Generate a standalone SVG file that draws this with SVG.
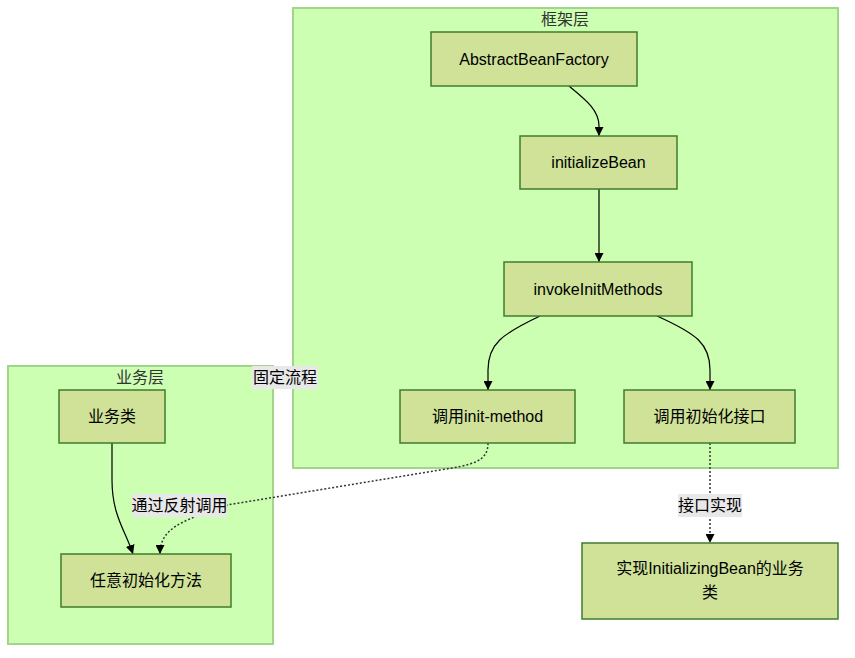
<svg xmlns="http://www.w3.org/2000/svg" width="855" height="658" viewBox="0 0 855 658">
<style>
text{font-family:"Liberation Sans","Noto Sans CJK SC",sans-serif;font-size:16px;fill:#000;text-anchor:middle;dominant-baseline:central}
.cluster rect{fill:#cdffb2;stroke:#a2d58a;stroke-width:2}
.cluster text{fill:#333}
.node rect{fill:#cfe298;stroke:#3f7d2c;stroke-width:1.5}
.edge{fill:none;stroke:#000;stroke-width:1.2}
.dot{stroke-dasharray:2,2;stroke:#333;stroke-width:1.5}
.lbl rect{fill:#e8e8e8}
</style>
<defs>
<marker id="arr" viewBox="0 0 10 10" refX="10" refY="5" markerWidth="9" markerHeight="9" markerUnits="userSpaceOnUse" orient="auto">
<path d="M0,0 L10,5 L0,10 z" fill="#000"/>
</marker>
</defs>
<g id="cluster-framework" class="cluster">
<rect x="293" y="8" width="545" height="460"/>
<text x="565" y="19">框架层</text>
</g>
<g id="cluster-business" class="cluster">
<rect x="8" y="366" width="265" height="278"/>
<text x="140" y="377">业务层</text>
</g>
<g id="connectors">
<path class="edge" d="M569,86 C586,100 599,110 599,126 L599,136" marker-end="url(#arr)"/>
<path class="edge" d="M599,189 L599,262" marker-end="url(#arr)"/>
<path class="edge" d="M540,316 C502,334 488,344 488,370 L488,390" marker-end="url(#arr)"/>
<path class="edge" d="M657,316 C697,334 710,344 710,370 L710,390" marker-end="url(#arr)"/>
<path class="edge" d="M112,443 L112,480 C112,515 125,530 133,554" marker-end="url(#arr)"/>
<path class="edge dot" d="M488,443 C488,462 472,465 440,470 L227,505 L200,515 C172,525 160,535 160,554" marker-end="url(#arr)"/>
<path class="edge dot" d="M710,443 L710,543" marker-end="url(#arr)"/>
</g>
<g id="edge-labels">
<g class="lbl"><rect x="252" y="366" width="66" height="23"/><text x="285" y="377.5">固定流程</text></g>
<g class="lbl"><rect x="132" y="494" width="95" height="23"/><text x="179.5" y="505.5">通过反射调用</text></g>
<g class="lbl"><rect x="678" y="494" width="64" height="23"/><text x="710" y="505.5">接口实现</text></g>
</g>
<g id="node-abf" class="node">
<rect x="431" y="32" width="206" height="54"/>
<text x="534" y="59">AbstractBeanFactory</text>
</g>
<g id="node-initializeBean" class="node">
<rect x="520" y="136" width="157" height="53"/>
<text x="598.5" y="162.5">initializeBean</text>
</g>
<g id="node-invokeInitMethods" class="node">
<rect x="504" y="262" width="188" height="54"/>
<text x="598" y="289">invokeInitMethods</text>
</g>
<g id="node-initMethod" class="node">
<rect x="400" y="390" width="175" height="53"/>
<text x="487.5" y="416.5">调用init-method</text>
</g>
<g id="node-initInterface" class="node">
<rect x="624" y="390" width="171" height="53"/>
<text x="709.5" y="416.5">调用初始化接口</text>
</g>
<g id="node-bizClass" class="node">
<rect x="59" y="390" width="106" height="53"/>
<text x="112" y="416.5">业务类</text>
</g>
<g id="node-anyInit" class="node">
<rect x="61" y="554" width="170" height="53"/>
<text x="146" y="580.5">任意初始化方法</text>
</g>
<g id="node-implBiz" class="node">
<rect x="582" y="543" width="256" height="76"/>
<text x="710" y="568">实现InitializingBean的业务</text>
<text x="710" y="592">类</text>
</g>
</svg>
